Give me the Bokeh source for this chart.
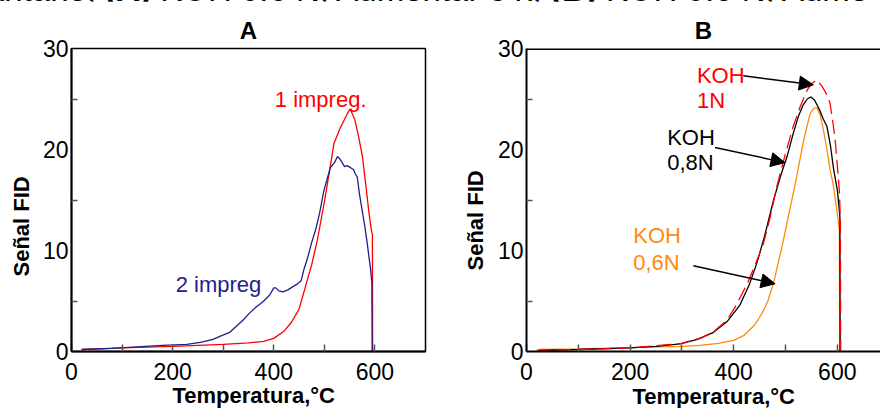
from bokeh.plotting import figure
from bokeh.models import Range1d, FixedTicker, Label, Arrow, NormalHead, Div, Title, Span
from bokeh.layouts import row, column
from bokeh.embed import file_html
from bokeh.resources import INLINE

# ---------------- data: panel A ----------------
a1_temp = [20, 100, 200, 300, 350, 380, 400, 420, 435, 450, 463, 475, 486, 500, 510, 519,
           531, 540, 547, 551, 560, 568, 575, 582, 588, 593, 595, 595.5]
a1_sig = [0.2, 0.35, 0.5, 0.7, 0.85, 1.0, 1.3, 2.0, 2.9, 4.2, 6.5, 8.6, 11.0, 14.8, 17.8, 20.6,
          22.1, 23.0, 23.7, 24.0, 23.0, 21.2, 19.4, 16.5, 13.8, 12.0, 11.6, 0.0]

a2_temp = [20, 80, 130, 180, 228, 255, 280, 298, 313, 326, 339, 352, 365, 378, 392, 400, 404,
           410, 418, 428, 437, 447, 454, 460, 467, 475, 483, 491, 499, 505, 512, 520, 526, 530,
           534, 540, 545, 552, 558, 561, 565, 570, 574, 580, 584, 591, 594, 594.5]
a2_sig = [0.2, 0.3, 0.45, 0.6, 0.7, 0.9, 1.2, 1.6, 1.9, 2.5, 3.1, 3.8, 4.4, 4.9, 5.6, 6.3, 6.3,
          6.0, 5.9, 6.1, 6.4, 6.7, 7.0, 8.2, 9.3, 10.8, 12.1, 13.8, 15.9, 17.0, 18.2, 18.7, 19.3, 19.1,
          18.8, 18.3, 18.4, 18.2, 18.0, 17.6, 17.3, 15.4, 14.2, 12.4, 11.0, 8.3, 6.8, 0.0]

# ---------------- data: panel B ----------------
b10_temp = [20, 100, 200, 300, 340, 362, 387, 405, 426, 440, 457, 470, 484, 500, 515, 528, 541,
            550, 560, 570, 578, 586, 592, 596, 601, 604, 606, 606.5]
b10_sig = [0.1, 0.2, 0.35, 0.8, 1.4, 2.0, 3.1, 4.6, 6.7, 8.4, 10.6, 13.2, 16.5, 19.6, 22.3, 24.2, 25.8,
           26.5, 26.9, 26.3, 25.6, 24.6, 22.5, 20.9, 17.8, 15.9, 13.0, 0.0]

b08_temp = [20, 100, 200, 250, 297, 330, 361, 388, 412, 430, 445, 460, 477, 490, 503, 515, 525,
            534, 542, 549, 556, 565, 573, 580, 587, 593, 600, 605, 605.5]
b08_sig = [0.1, 0.2, 0.35, 0.5, 0.75, 1.2, 1.9, 3.0, 4.6, 6.6, 8.8, 11.5, 15.0, 17.3, 19.3, 21.6, 23.3,
           24.4, 25.0, 25.2, 24.9, 24.0, 23.0, 22.3, 20.3, 18.0, 16.0, 13.4, 0.0]

b06_temp = [25, 100, 220, 300, 335, 370, 400, 420, 440, 455, 466, 477, 486, 496, 506, 516, 526,
            535, 542, 548, 555, 561, 567, 573, 580, 586, 592, 601, 604, 604.5]
b06_sig = [0.2, 0.25, 0.4, 0.5, 0.6, 0.8, 1.1, 1.6, 2.6, 3.8, 5.0, 6.8, 8.8, 11.0, 13.5, 15.9, 18.5,
           20.9, 22.4, 23.6, 24.1, 24.1, 23.4, 22.0, 20.0, 18.0, 16.6, 13.3, 12.0, 0.0]

x_major = [0, 200, 400, 600]
x_minor = [100, 300, 500]
y_major = [0, 10, 20, 30]
y_minor = [5, 15, 25]

caption_parts = ["antano, ", "(A)", " KOH 0.6 N, Aumentar 5 x, ", "(B)", " KOH 0.6 N, Aume"]

FONT = "Liberation Sans"
RED = "#ff0000"
NAVY = "#1e1e8c"
ORANGE = "#ff8a0d"
TICK_GRAY = "#555555"
H = 407
WA, WB = 448, 432


def make_fig(width, x_end, mbl, mbr, mbt, mbb, outline):
    p = figure(width=width, height=H, x_range=Range1d(0, x_end), y_range=Range1d(0, 30),
               output_backend="svg", toolbar_location=None,
               min_border_left=mbl, min_border_right=mbr, min_border_top=mbt, min_border_bottom=mbb,
               background_fill_color="white", border_fill_color="white")
    p.xgrid.visible = False
    p.ygrid.visible = False
    if outline:
        p.outline_line_color = "black"
        p.outline_line_width = 1.5
    else:
        p.outline_line_color = None
    xa = p.xaxis[0]
    xa.ticker = FixedTicker(ticks=x_major, minor_ticks=x_minor)
    xa.axis_line_width = 2
    xa.major_tick_in = 7
    xa.major_tick_out = 0
    xa.minor_tick_in = 7
    xa.minor_tick_out = 0
    xa.major_tick_line_color = TICK_GRAY
    xa.minor_tick_line_color = TICK_GRAY
    xa.major_tick_line_width = 1.5
    xa.minor_tick_line_width = 1.5
    xa.major_label_text_font = FONT
    xa.major_label_text_font_size = "23px"
    xa.major_label_text_color = "black"
    xa.major_label_standoff = 11
    ya = p.yaxis[0]
    ya.ticker = FixedTicker(ticks=y_major, minor_ticks=y_minor)
    ya.axis_line_width = 2
    ya.major_tick_line_color = None
    ya.major_tick_in = 0
    ya.major_tick_out = 0
    ya.minor_tick_in = 6
    ya.minor_tick_out = 0
    ya.minor_tick_line_color = TICK_GRAY
    ya.minor_tick_line_width = 1.5
    ya.major_label_text_font = FONT
    ya.major_label_text_font_size = "23px"
    ya.major_label_text_color = "black"
    ya.major_label_standoff = 3
    return p


def style_title(t, size="22px", standoff=0, offset=0, align="center"):
    t.text_font = FONT
    t.text_font_size = size
    t.text_font_style = "bold"
    t.text_color = "black"
    t.align = align
    t.standoff = standoff
    t.offset = offset


def add_side_title(p, text, place, size, standoff, offset):
    t = Title(text=text)
    style_title(t, size=size, standoff=standoff, offset=offset, align="left")
    p.add_layout(t, place)


def add_label(p, x, y, text, color="black", size="22px"):
    p.add_layout(Label(x=x, y=y, text=text, text_color=color, text_font=FONT,
                       text_font_size=size, text_align="left", text_baseline="alphabetic"))


# ---------------- panel A ----------------
pA = make_fig(WA, 700, 67, 23, 45, 56, True)
pA.title.text = "A"
style_title(pA.title, size="24px", standoff=10)
pA.line(a1_temp, a1_sig, line_color=RED, line_width=1.3)
pA.line(a2_temp, a2_sig, line_color=NAVY, line_width=1.3)
add_label(pA, 402, 25.0, "1 impreg.", color=RED)
add_label(pA, 206, 6.6, "2 impreg", color=NAVY)
add_side_title(pA, "Señal FID", "left", "22px", 12, 75)
add_side_title(pA, "Temperatura,°C", "below", "22px", -3, 101)

# ---------------- panel B ----------------
pB = make_fig(WB, 683.4, 78, 0, 47, 57, False)
pB.title.text = "B"
style_title(pB.title, size="24px", standoff=10)
pB.add_layout(Span(location=30, dimension="width", line_color="black", line_width=3))
pB.line(b06_temp, b06_sig, line_color=ORANGE, line_width=1.3)
pB.line(b08_temp, b08_sig, line_color="black", line_width=1.3)
pB.line(b10_temp, b10_sig, line_color=RED, line_width=1.3, line_dash="14 6")
add_label(pB, 329, 27.3, "KOH", color=RED)
add_label(pB, 329, 24.85, "1N", color=RED)
add_label(pB, 271.6, 21.2, "KOH")
add_label(pB, 271.6, 18.7, "0,8N")
add_label(pB, 206, 11.5, "KOH", color=ORANGE)
add_label(pB, 206, 8.8, "0,6N", color=ORANGE)
add_side_title(pB, "Señal FID", "left", "22px", 13, 81)
add_side_title(pB, "Temperatura,°C", "below", "22px", -2, 106)

for xs, ys, xe, ye in [(418.5, 27.3, 553.7, 26.4), (364, 20.2, 499, 18.7), (322, 8.5, 480, 6.7)]:
    pB.add_layout(Arrow(x_start=xs, y_start=ys, x_end=xe, y_end=ye, line_color="black",
                        line_width=1.5,
                        end=NormalHead(size=14, fill_color="black", line_color="black")))

# ---------------- cut-off caption line at the very top ----------------
cap_html = ('<span style="display:block;position:relative;top:-27px;left:-14px;'
            'white-space:nowrap;font-family:\'Liberation Sans\';font-size:33px;'
            'line-height:33px;color:black;">'
            + caption_parts[0] + '<b>' + caption_parts[1] + '</b>' + caption_parts[2]
            + '<b>' + caption_parts[3] + '</b>' + caption_parts[4] + '</span>')
caption = Div(text=cap_html, width=WA + WB, height=1, margin=(0, 0, 0, 0),
              styles={"overflow": "visible"})

layout = column(caption, row(pA, pB))
open("out.html", "w").write(file_html(layout, INLINE))
